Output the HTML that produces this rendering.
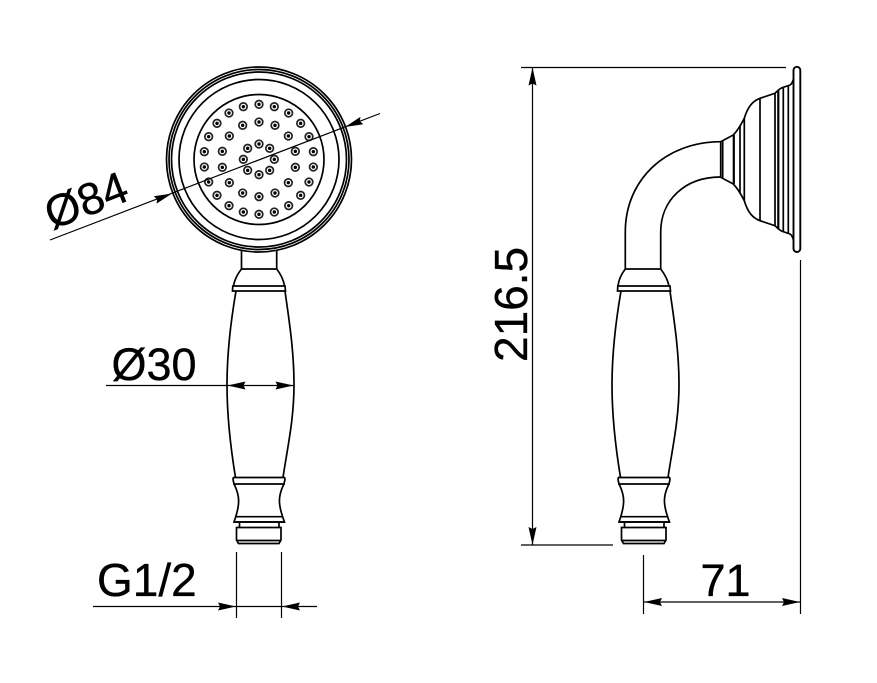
<!DOCTYPE html>
<html>
<head>
<meta charset="utf-8">
<style>
html,body{margin:0;padding:0;background:#fff}
svg{display:block}
text{font-family:"Liberation Sans",sans-serif;font-size:46px;fill:#000;stroke:#000;stroke-width:.35}
.o{fill:none;stroke:#000;stroke-width:1.7}
.d{fill:none;stroke:#000;stroke-width:1.2}
.a{fill:#000;stroke:none}
</style>
</head>
<body>
<svg width="877" height="683" viewBox="0 0 877 683" xmlns="http://www.w3.org/2000/svg">
<defs>
<g id="n"><circle r="3.800" fill="none" stroke="#222" stroke-width="1.700"/><circle r="1.700" fill="#000"/></g>
<g id="h">
<path class="o" d="M236 291 C231 320 227 350 227 385 C227 420 231 450 235.500 477.500 M285 291 C289 320 294 350 294 385 C294 420 287 450 283 477.500"/>
<path class="o" d="M233 477.500 H285 M233 484 H285 M233 477.500 Q233 482 235 486 C240 497 240 505 234 522 H284.500 C278 505 278 497 283 486 Q285 482 285 477.500"/>
<path class="o" d="M235 516.700 H283 M234 522 H284.500"/>
<path class="o" d="M239.500 522 V527.500 M279 522 V527.500 M236.500 527.500 H281 V540 L279 543.500 H238.500 L236.500 540 Z M237 540.500 H280.500"/>
<path class="o" d="M232.800 286 H285 L285.500 291 H232.500 Z"/>
</g>
<path id="a" d="M0 0 L-18 -4 L-16 0 L-18 4 Z"/>
</defs>

<!-- front head -->
<circle class="o" cx="259" cy="159.500" r="92.500"/>
<circle class="o" cx="259" cy="159.500" r="90"/>
<circle class="o" cx="259" cy="159.500" r="87.500"/>
<circle class="o" cx="259" cy="159.500" r="80"/>
<circle class="o" cx="259" cy="159.500" r="65"/>
<g transform="translate(150,55) scale(.33333)">
<use href="#n" transform="translate(327,148) scale(3)"/><use href="#n" transform="translate(373,155) scale(3)"/><use href="#n" transform="translate(416,174) scale(3)"/><use href="#n" transform="translate(452,205) scale(3)"/><use href="#n" transform="translate(477,245) scale(3)"/><use href="#n" transform="translate(490,290) scale(3)"/><use href="#n" transform="translate(490,336) scale(3)"/><use href="#n" transform="translate(477,381) scale(3)"/><use href="#n" transform="translate(452,421) scale(3)"/><use href="#n" transform="translate(416,452) scale(3)"/><use href="#n" transform="translate(373,471) scale(3)"/><use href="#n" transform="translate(327,478) scale(3)"/><use href="#n" transform="translate(280,471) scale(3)"/><use href="#n" transform="translate(237,452) scale(3)"/><use href="#n" transform="translate(201,421) scale(3)"/><use href="#n" transform="translate(176,381) scale(3)"/><use href="#n" transform="translate(163,336) scale(3)"/><use href="#n" transform="translate(163,290) scale(3)"/><use href="#n" transform="translate(176,245) scale(3)"/><use href="#n" transform="translate(201,205) scale(3)"/><use href="#n" transform="translate(237,174) scale(3)"/><use href="#n" transform="translate(280,155) scale(3)"/>
<use href="#n" transform="translate(327,201) scale(3)"/><use href="#n" transform="translate(375,211) scale(3)"/><use href="#n" transform="translate(415,243) scale(3)"/><use href="#n" transform="translate(436,289) scale(3)"/><use href="#n" transform="translate(436,337) scale(3)"/><use href="#n" transform="translate(415,383) scale(3)"/><use href="#n" transform="translate(375,414) scale(3)"/><use href="#n" transform="translate(327,425) scale(3)"/><use href="#n" transform="translate(278,414) scale(3)"/><use href="#n" transform="translate(238,383) scale(3)"/><use href="#n" transform="translate(217,337) scale(3)"/><use href="#n" transform="translate(217,289) scale(3)"/><use href="#n" transform="translate(238,243) scale(3)"/><use href="#n" transform="translate(278,211) scale(3)"/>
<use href="#n" transform="translate(327,267) scale(3)"/><use href="#n" transform="translate(359,280) scale(3)"/><use href="#n" transform="translate(373,313) scale(3)"/><use href="#n" transform="translate(359,346) scale(3)"/><use href="#n" transform="translate(327,359) scale(3)"/><use href="#n" transform="translate(293,346) scale(3)"/><use href="#n" transform="translate(280,313) scale(3)"/><use href="#n" transform="translate(293,280) scale(3)"/>
</g>

<!-- front neck + handle -->
<path class="o" d="M241.500 250.500 V269 M276.700 250.500 V269 M241.500 269 H276.700 M241.500 269 Q235 277 233.500 286 M276.700 269 Q283 277 284.500 286"/>
<use href="#h"/>

<!-- side handle -->
<use href="#h" transform="translate(385,0)"/>

<!-- side pipe -->
<path class="o" d="M625.300 269 V232 C625.300 180 665 142 720.700 141.700 M660.700 269 V232 C660.700 200 685 177 720.700 177 M625.300 269 H660.700 M625.300 269 Q619 277 618 286 M660.700 269 Q667 277 669 286"/>

<!-- flange -->
<path class="o" d="M720.700 141.700 L733.300 135 Q739 129 744.300 118.300 C748 106 753 101 760 98.300 L775 93.300 Q780 88 783.300 87.300 L790 85 Q792 84 793.500 79"/>
<path class="o" d="M720.700 177.300 L733.300 184 Q739 190 744.300 200.700 C748 213 753 218 760 220.700 L775 225.700 Q780 231 783.300 231.700 L790 234 Q792 235 793.500 240"/>
<path class="o" d="M720.700 141.700 V177.300 M722.700 141 V178 M740 125.500 V193.500 M744.300 118.300 V200.700 M760 98.300 V220.700 M775 93.300 V225.700 M783.300 87.300 V231.700 M788.300 85.500 V233.500"/>
<path class="o" style="stroke-width:2.200" d="M733.800 135 V184 M778.300 90 V229"/>
<rect class="o" x="793.500" y="66.800" width="6.800" height="185.200" rx="3.400" style="stroke-width:1.900"/>

<!-- dim: diameter 84 -->
<path class="d" d="M50 240 L380 113.500"/>
<use href="#a" class="a" transform="translate(172,193.500) rotate(-21)"/>
<use href="#a" class="a" transform="translate(345,127) rotate(159)"/>
<text transform="translate(52,230) rotate(-21)" style="font-size:45px">Ø84</text>

<!-- dim: 30 -->
<path class="d" d="M106 385.500 H294"/>
<use href="#a" class="a" transform="translate(227.500,385.500) rotate(180)"/>
<use href="#a" class="a" transform="translate(293.500,385.500)"/>
<text x="111.500" y="380" style="font-size:45px">Ø30</text>

<!-- dim: G1/2 -->
<path class="d" d="M236.500 552 V618 M281.500 552 V618 M93 606.500 H317"/>
<use href="#a" class="a" transform="translate(236,606.500)"/>
<use href="#a" class="a" transform="translate(282,606.500) rotate(180)"/>
<text x="97" y="596">G1/2</text>

<!-- dim: 216.5 -->
<path class="d" d="M521 67.500 H786 M521 545 H613 M532.500 67.500 V545"/>
<use href="#a" class="a" transform="translate(532.500,67.500) rotate(-90)"/>
<use href="#a" class="a" transform="translate(532.500,545) rotate(90)"/>
<text transform="translate(527,362) rotate(-90)">216.5</text>

<!-- dim: 71 -->
<path class="d" d="M643.500 555 V614 M800.500 260 V614 M644 602 H800"/>
<use href="#a" class="a" transform="translate(644,602) rotate(180)"/>
<use href="#a" class="a" transform="translate(800,602)"/>
<text x="700.500" y="596" style="font-size:45px">71</text>
</svg>
</body>
</html>
